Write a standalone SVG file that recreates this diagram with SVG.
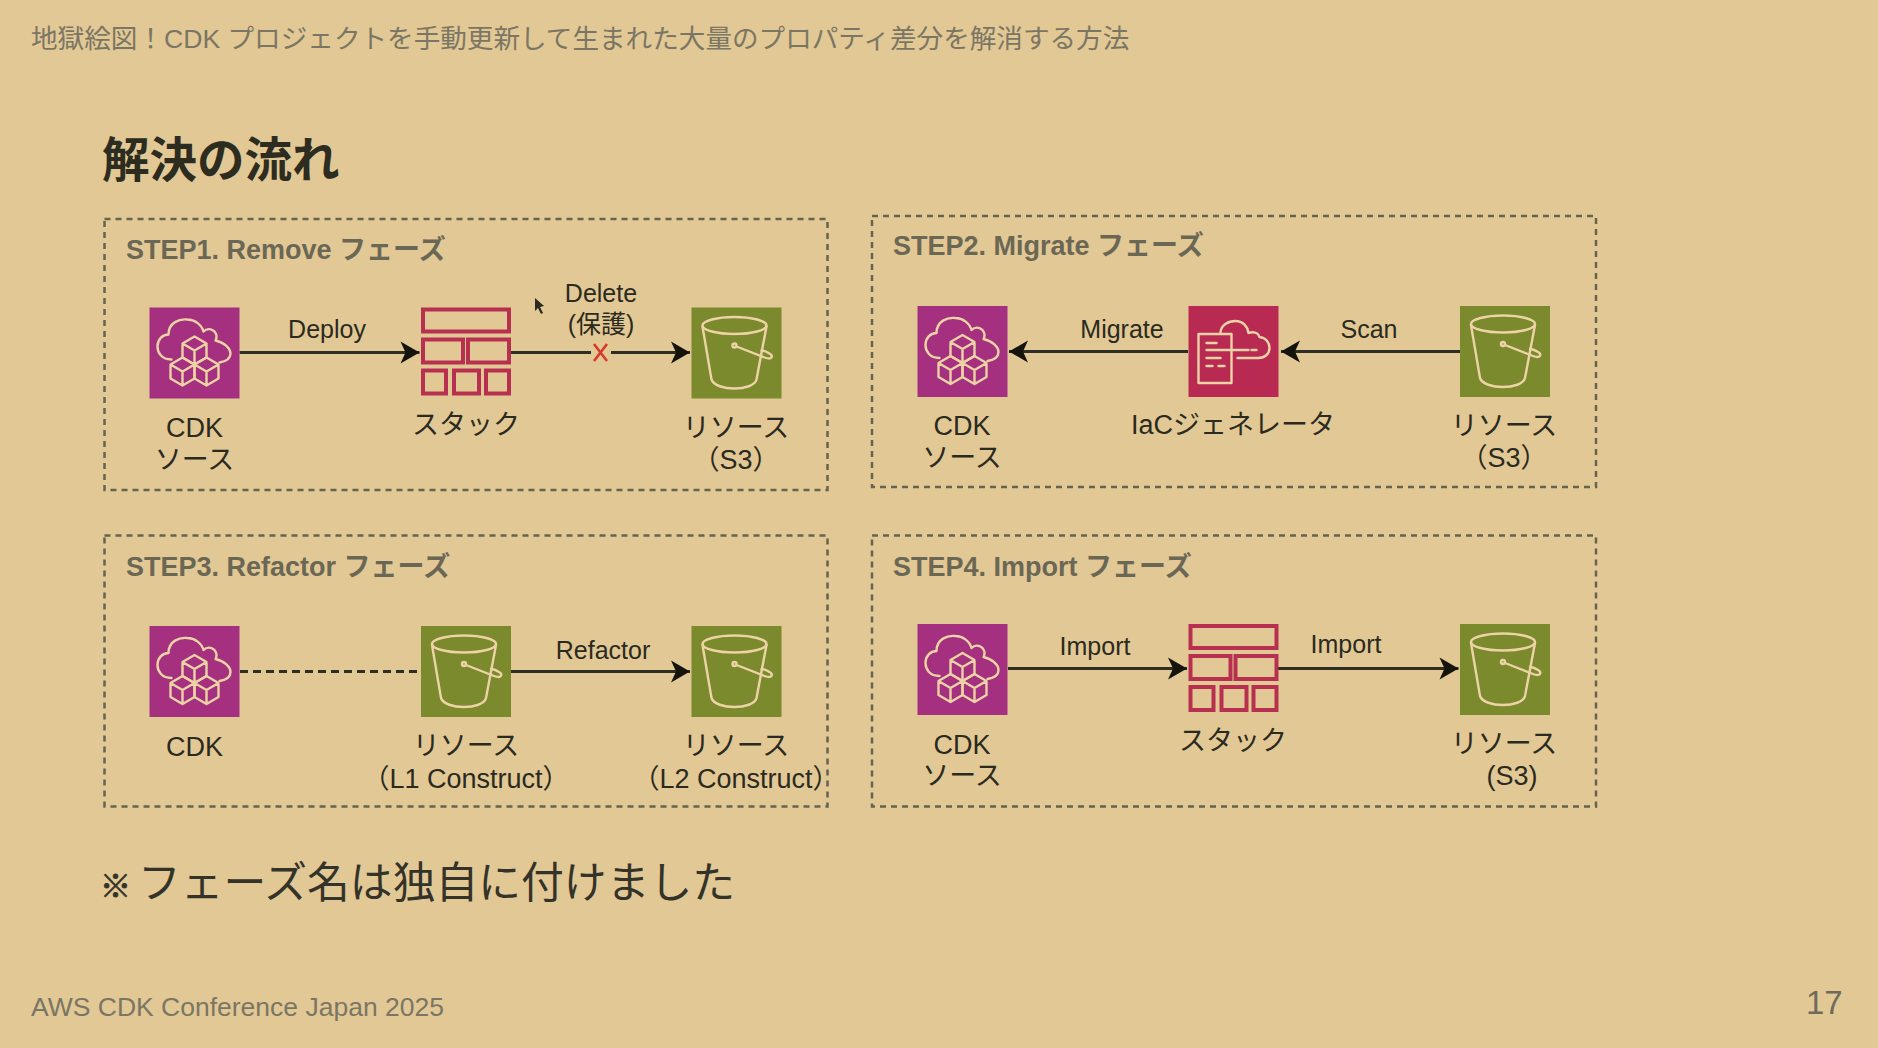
<svg xmlns="http://www.w3.org/2000/svg" width="1878" height="1048" viewBox="0 0 1878 1048">
<style>
text{font-family:"Liberation Sans","Noto Sans CJK JP",sans-serif}
.hd{font-size:26.600px;fill:#7b7664}
.ft{font-size:26.500px;fill:#7b7664}
.h1{font-family:"Noto Sans CJK JP",sans-serif;font-size:47.500px;font-weight:700;fill:#2d2c20}
.st{font-size:27px;font-weight:700;fill:#6b6755}
.lb{font-size:25px;fill:#2b2a1f;text-anchor:middle}
.cj{font-size:27px}
.frame{fill:none;stroke:#66634f;stroke-width:2.500;stroke-dasharray:6 5}
.ln{fill:none;stroke:#2f2e22;stroke-width:3}
.ic{fill:none;stroke:#edd3a6;stroke-width:2.400;stroke-linejoin:round;stroke-linecap:round}
.sk{fill:none;stroke:#b8304f;stroke-width:4}
</style>
<defs>
<marker id="ah" markerUnits="userSpaceOnUse" markerWidth="20" markerHeight="22" refX="19" refY="11" orient="auto" overflow="visible"><path d="M0,0L19,11L0,22L5,11Z" fill="#14140c"/></marker>
<g id="cdk">
<rect width="90" height="91" fill="#a4307f"/>
<path class="ic" d="M22,52C12,52 8,45 8,39C8,32 13,27 19,27C19,15 30,11 38,12C45,12 52,17 54,24C58,20 65,21 67,28C67,31 67,32 66,33C75,35 81,41 81,46C81,51 76,54 70,55"/>
<g class="ic"><path d="M45,29L57,36V50L45,57L33,50V36ZM33,36L45,43L57,36M45,43V57"/><path d="M33,50L45,57V71L33,78L21,71V57ZM21,57L33,64L45,57M33,64V78"/><path d="M57,50L69,57V71L57,78L45,71V57ZM45,57L57,64L69,57M57,64V78"/></g>
</g>
<g id="s3">
<rect width="90" height="91" fill="#7a8a2d"/>
<ellipse class="ic" cx="43" cy="18" rx="32" ry="8.500"/>
<path class="ic" d="M11,19L20,72C24,84 62,84 65,72L75,19"/>
<circle class="ic" cx="43" cy="38" r="2"/>
<path class="ic" d="M45,39L73,50C81,53 82,48 78,46C75,44 72,43 70,43"/>
</g>
<g id="stack">
<rect class="sk" x="2" y="2" width="86" height="22"/>
<rect class="sk" x="2" y="32" width="40" height="23"/>
<rect class="sk" x="47" y="32" width="41" height="23"/>
<rect class="sk" x="2" y="63" width="23" height="23"/>
<rect class="sk" x="33" y="63" width="25" height="23"/>
<rect class="sk" x="65" y="63" width="23" height="23"/>
</g>
<g id="iac">
<rect width="90" height="91" fill="#b92a52"/>
<g class="ic"><rect x="10" y="28" width="33" height="49"/><path d="M18,37H28M18,44H60M63,44H68M18,52H32M18,60H24M30,60H36"/>
<path d="M32,27C32,19 40,15 47,15C54,15 59,20 60,27C65,25 70,27 71,31C78,32 81,37 81,42C81,48 76,52 70,52H49"/></g>
</g>
</defs>
<rect width="1878" height="1048" fill="#e2c894"/>
<text class="hd" x="31" y="48">地獄絵図！CDK プロジェクトを手動更新して生まれた大量のプロパティ差分を解消する方法</text>
<text class="h1" x="102" y="177">解決の流れ</text>
<g id="frames">
<rect class="frame" x="104.500" y="219" width="723" height="271"/>
<rect class="frame" x="872" y="216" width="724" height="271"/>
<rect class="frame" x="104.500" y="535.500" width="723" height="271"/>
<rect class="frame" x="872" y="535.500" width="724" height="271"/>
</g>
<text class="st" x="126" y="259">STEP1. Remove フェーズ</text>
<text class="st" x="893" y="255">STEP2. Migrate フェーズ</text>
<text class="st" x="126" y="576">STEP3. Refactor フェーズ</text>
<text class="st" x="893" y="576">STEP4. Import フェーズ</text>
<g id="connectors">
<path class="ln" marker-end="url(#ah)" d="M239.500,352.500H419.500"/>
<path class="ln" d="M511,352.500H591"/>
<path class="ln" marker-end="url(#ah)" d="M611,352.500H690"/>
<path class="ln" marker-end="url(#ah)" d="M1188,351.500H1009"/>
<path class="ln" marker-end="url(#ah)" d="M1460,351.500H1281"/>
<path class="ln" stroke-dasharray="8 5" d="M240,671.500H421"/>
<path class="ln" marker-end="url(#ah)" d="M511,671.500H690"/>
<path class="ln" marker-end="url(#ah)" d="M1008,668.500H1187"/>
<path class="ln" marker-end="url(#ah)" d="M1278,668.500H1458.500"/>
<path d="M594,344L607,361M607,344L594,361" fill="none" stroke="#d8392b" stroke-width="2.600"/>
</g>
<g id="n1"><use href="#cdk" x="149.500" y="307.500"/><text class="lb cj" x="194.500" y="437">CDK</text><text class="lb cj" x="194.500" y="469">ソース</text></g>
<g id="n2"><use href="#stack" x="421" y="307.500"/><text class="lb cj" x="466" y="434">スタック</text></g>
<g id="n3"><use href="#s3" x="691.500" y="307.500"/><text class="lb cj" x="736" y="437">リソース</text><text class="lb cj" x="736" y="469">（S3）</text></g>
<g id="n4"><use href="#cdk" x="917.500" y="306"/><text class="lb cj" x="962" y="435">CDK</text><text class="lb cj" x="962" y="467">ソース</text></g>
<g id="n5"><use href="#iac" x="1188.500" y="306"/><text class="lb cj" x="1233" y="434">IaCジェネレータ</text></g>
<g id="n6"><use href="#s3" x="1460" y="306"/><text class="lb cj" x="1504" y="435">リソース</text><text class="lb cj" x="1504" y="467">（S3）</text></g>
<g id="n7"><use href="#cdk" x="149.500" y="626"/><text class="lb cj" x="194.500" y="756">CDK</text></g>
<g id="n8"><use href="#s3" x="421" y="626"/><text class="lb cj" x="466" y="755">リソース</text><text class="lb cj" x="466" y="788">（L1 Construct）</text></g>
<g id="n9"><use href="#s3" x="691.500" y="626"/><text class="lb cj" x="736" y="755">リソース</text><text class="lb cj" x="736" y="788">（L2 Construct）</text></g>
<g id="n10"><use href="#cdk" x="917.500" y="624"/><text class="lb cj" x="962" y="754">CDK</text><text class="lb cj" x="962" y="785">ソース</text></g>
<g id="n11"><use href="#stack" x="1188.500" y="624"/><text class="lb cj" x="1233" y="750">スタック</text></g>
<g id="n12"><use href="#s3" x="1460" y="624"/><text class="lb cj" x="1504" y="753">リソース</text><text class="lb cj" x="1512" y="785">(S3)</text></g>
<g id="edge-labels">
<text class="lb" x="327" y="338">Deploy</text>
<text class="lb" x="601" y="302">Delete</text>
<text class="lb" x="601" y="333">(保護)</text>
<text class="lb" x="1122" y="338">Migrate</text>
<text class="lb" x="1369" y="338">Scan</text>
<text class="lb" x="603" y="659">Refactor</text>
<text class="lb" x="1095" y="655">Import</text>
<text class="lb" x="1346" y="653">Import</text>
</g>
<path d="M535,298L535,311L538,308L541,314L543,313L540,307L544,306Z" fill="#2a2a20"/>
<text x="100" y="897" style="font-family:'Noto Sans CJK JP',sans-serif;font-size:31px;font-weight:700;fill:#34332a;stroke:#34332a;stroke-width:.8px">※</text>
<text x="138" y="898" style="font-family:'Noto Sans CJK JP',sans-serif;font-size:42.800px;fill:#34332a">フェーズ名は独自に付けました</text>
<text class="ft" x="31" y="1016">AWS CDK Conference Japan 2025</text>
<text x="1806" y="1014" style="font-size:33px;fill:#6f6b5b">17</text>
</svg>
